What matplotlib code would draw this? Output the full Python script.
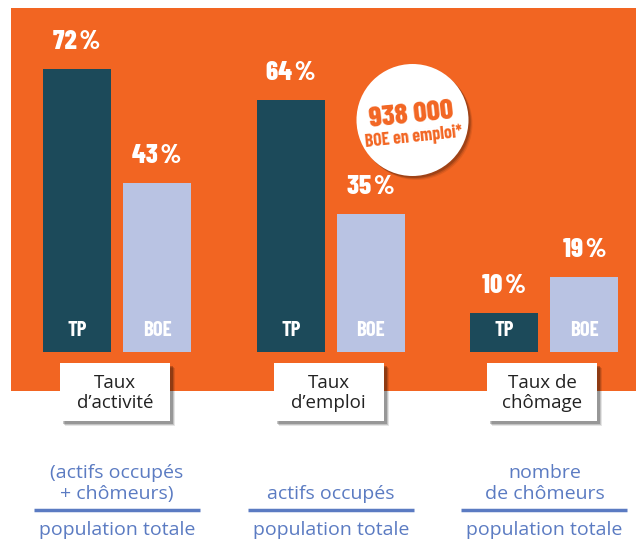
import matplotlib
matplotlib.use("Agg")
import matplotlib.pyplot as plt
from matplotlib.patches import Rectangle, Circle

# ---- data ----
categories = ["Taux\nd\u2019activit\u00e9", "Taux\nd\u2019emploi", "Taux de\nch\u00f4mage"]
series_names = ["TP", "BOE"]
tp_values = [72, 64, 10]
boe_values = [43, 35, 19]
numerators = ["(actifs occup\u00e9s\n+ ch\u00f4meurs)", "actifs occup\u00e9s", "nombre\nde ch\u00f4meurs"]
denominator = "population totale"
badge_number = "938 000"
badge_text = "BOE en emploi*"

# ---- style ----
ORANGE = "#f26522"
TP_COL = "#1c4a5a"
BOE_COL = "#b9c3e3"
BLUE = "#5b7bc2"
COND = ["Barlow Condensed", "DejaVu Sans"]
SANS = ["Open Sans", "DejaVu Sans"]

W, H = 636, 540
fig = plt.figure(figsize=(W / 100, H / 100), dpi=100)

# background / decoration axes in pixel coordinates
bg = fig.add_axes([0, 0, 1, 1], zorder=0)
bg.set_xlim(0, W)
bg.set_ylim(H, 0)
bg.axis("off")
bg.add_patch(Rectangle((11, 8), W - 11, 383, color=ORANGE, lw=0))

# bar axes: x in pixels, y in percent
base_px = 352
px_per_pct = 3.93
ymax = 85
bax = fig.add_axes([0, (H - base_px) / H, 1, ymax * px_per_pct / H], zorder=1)
bax.set_xlim(0, W)
bax.set_ylim(0, ymax)
bax.axis("off")
bax.patch.set_alpha(0)

group0 = 117
group_step = 213.7
offset = 40
bw = 68
centers = [group0 + group_step * i for i in range(len(categories))]
tp_x = [c - offset for c in centers]
boe_x = [c + offset for c in centers]
bax.bar(tp_x, tp_values, width=bw, color=TP_COL, lw=0)
bax.bar(boe_x, boe_values, width=bw, color=BOE_COL, lw=0)

for xs, vals, name in [(tp_x, tp_values, "TP"), (boe_x, boe_values, "BOE")]:
    for x, v in zip(xs, vals):
        bax.annotate(f"{v}\u200a%", (x, v), xytext=(0, 15), textcoords="offset pixels",
                     ha="center", va="bottom", color="white", fontsize=19.5,
                     fontweight="heavy", family=COND)
        bax.annotate(name, (x, 0), xytext=(0, 21), textcoords="offset pixels",
                     ha="center", va="center", color="white", fontsize=15,
                     fontweight="bold", family=COND)

# category boxes with shadow
ov = fig.add_axes([0, 0, 1, 1], zorder=2)
ov.set_xlim(0, W)
ov.set_ylim(H, 0)
ov.axis("off")
ov.patch.set_alpha(0)
bw_box, bh_box, btop = 110, 58, 363
for c, cat in zip(centers, categories):
    x0 = c - bw_box / 2 - 2
    for k, a in enumerate([0.10, 0.15, 0.22]):
        d = 3 - k
        ov.add_patch(Rectangle((x0 + 2 + d, btop + 2 + d), bw_box, bh_box, color="black",
                               alpha=a, lw=0))
    ov.add_patch(Rectangle((x0, btop), bw_box, bh_box, color="white", lw=0))
    ov.text(c - 2, btop + bh_box / 2 + 1, cat, ha="center", va="center", fontsize=13.5,
            color="#222222", family=SANS, linespacing=1.1)

# fractions
for c, num in zip(centers, numerators):
    ov.text(c, 503, num, ha="center", va="bottom", fontsize=14, color=BLUE,
            family=SANS, linespacing=1.2)
    ov.plot([c - 83, c + 83], [510, 510], color=BLUE, lw=2.5, solid_capstyle="butt")
    ov.text(c, 530, denominator, ha="center", va="center", fontsize=14,
            color=BLUE, family=SANS)

# badge
cx, cy, r = 412.5, 120, 56
for k, a in enumerate([0.08, 0.12, 0.18]):
    d = 4 - k
    ov.add_patch(Circle((cx + d, cy + d), r, color="black", alpha=a, lw=0))
ov.add_patch(Circle((cx, cy), r, color="white", lw=0))
ov.text(cx - 1, cy - 5, badge_number, ha="center", va="center", rotation=6,
        fontsize=21, fontweight="heavy", color=ORANGE, family=COND, rotation_mode="anchor")
ov.text(cx + 1, cy + 17, badge_text, ha="center", va="center", rotation=6,
        fontsize=13, fontweight="bold", color=ORANGE, family=COND, rotation_mode="anchor")

fig.savefig("out.png", dpi=100, facecolor="white")
